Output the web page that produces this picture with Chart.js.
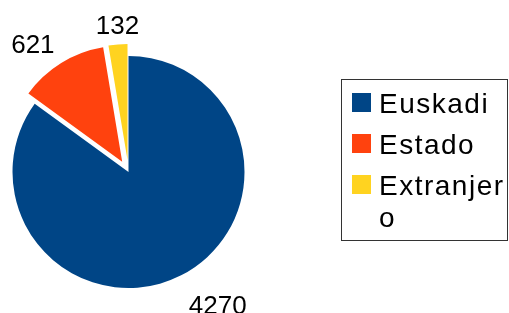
<!DOCTYPE html>
<html>
<head>
<meta charset="utf-8">
<script src="https://cdn.jsdelivr.net/npm/chart.js@4.4.0/dist/chart.umd.min.js"></script>
<style>
  body { margin: 0; background: #fff; }
  #wrap { position: relative; width: 509px; height: 313px; overflow: hidden; }
  #legend {
    position: absolute; left: 341px; top: 79px; width: 167px; height: 162px;
    box-sizing: border-box; border: 1px solid #333;
    font-family: "Liberation Sans", Arial, sans-serif; font-size: 28px; line-height: 32px;
    letter-spacing: 1.5px; color: #000;
  }
  .item { position: absolute; left: 10px; }
  .box { position: absolute; left: 0; top: 5px; width: 19px; height: 19px; }
  .txt { position: absolute; left: 27px; top: 0; width: 132px; word-break: break-all; }
</style>
</head>
<body>
<div id="wrap">
  <canvas id="chart" width="509" height="313"></canvas>
  <div id="legend"></div>
</div>
<script>
const categories = ['Euskadi', 'Estado', 'Extranjero'];
const values = [4270, 621, 132];
const colors = ['#004586', '#ff420e', '#ffd320'];
const explode = [0, 12, 12];

// legend box (html, so long names can wrap like the original)
const legend = document.getElementById('legend');
const rowTops = [8, 48.5, 89.5];
categories.forEach((name, i) => {
  const item = document.createElement('div');
  item.className = 'item';
  item.style.top = rowTops[i] + 'px';
  item.innerHTML = `<div class="box" style="background:${colors[i]}"></div><div class="txt">${name}</div>`;
  legend.appendChild(item);
});

// pull slices out from the centre
const explodePlugin = {
  id: 'explode',
  beforeDatasetsDraw(chart) {
    chart.getDatasetMeta(0).data.forEach((arc, i) => {
      if (arc._exploded) return;
      arc._exploded = true;
      const baseDraw = arc.draw.bind(arc);
      arc.draw = function (ctx) {
        const mid = (this.startAngle + this.endAngle) / 2;
        ctx.save();
        ctx.translate(Math.cos(mid) * explode[i], Math.sin(mid) * explode[i]);
        baseDraw(ctx);
        ctx.restore();
      };
    });
  }
};

// value labels outside the pie
const outsideLabels = {
  id: 'outsideLabels',
  afterDatasetsDraw(chart) {
    const ctx = chart.ctx;
    const size = 26;
    ctx.save();
    ctx.font = size + 'px "Liberation Sans", Arial, sans-serif';
    ctx.fillStyle = '#000';
    ctx.textBaseline = 'alphabetic';
    chart.getDatasetMeta(0).data.forEach((arc, i) => {
      const p = arc.getProps(['x', 'y', 'startAngle', 'endAngle', 'outerRadius'], true);
      const mid = (p.startAngle + p.endAngle) / 2;
      const cos = Math.cos(mid), sin = Math.sin(mid);
      const d = p.outerRadius + 17;
      let ax = p.x + cos * d, ay = p.y + sin * d;
      ctx.textAlign = cos > 0.15 ? 'left' : cos < -0.15 ? 'right' : 'center';
      if (ctx.textAlign === 'right') ax -= 4;
      let by;
      if (sin > 0.15) by = ay + 0.905 * size;
      else if (sin < -0.15) by = ay - 0.212 * size;
      else by = ay + 0.35 * size;
      ctx.fillText(String(values[i]), ax, by);
    });
    ctx.restore();
  }
};

new Chart(document.getElementById('chart'), {
  type: 'pie',
  data: {
    labels: categories,
    datasets: [{
      data: values,
      backgroundColor: colors,
      borderWidth: 0
    }]
  },
  options: {
    responsive: false,
    animation: false,
    events: [],
    radius: 116,
    layout: { padding: { left: 0, right: 252, top: 31, bottom: 0 } },
    plugins: {
      legend: { display: false },
      tooltip: { enabled: false }
    }
  },
  plugins: [explodePlugin, outsideLabels]
});
</script>
</body>
</html>
